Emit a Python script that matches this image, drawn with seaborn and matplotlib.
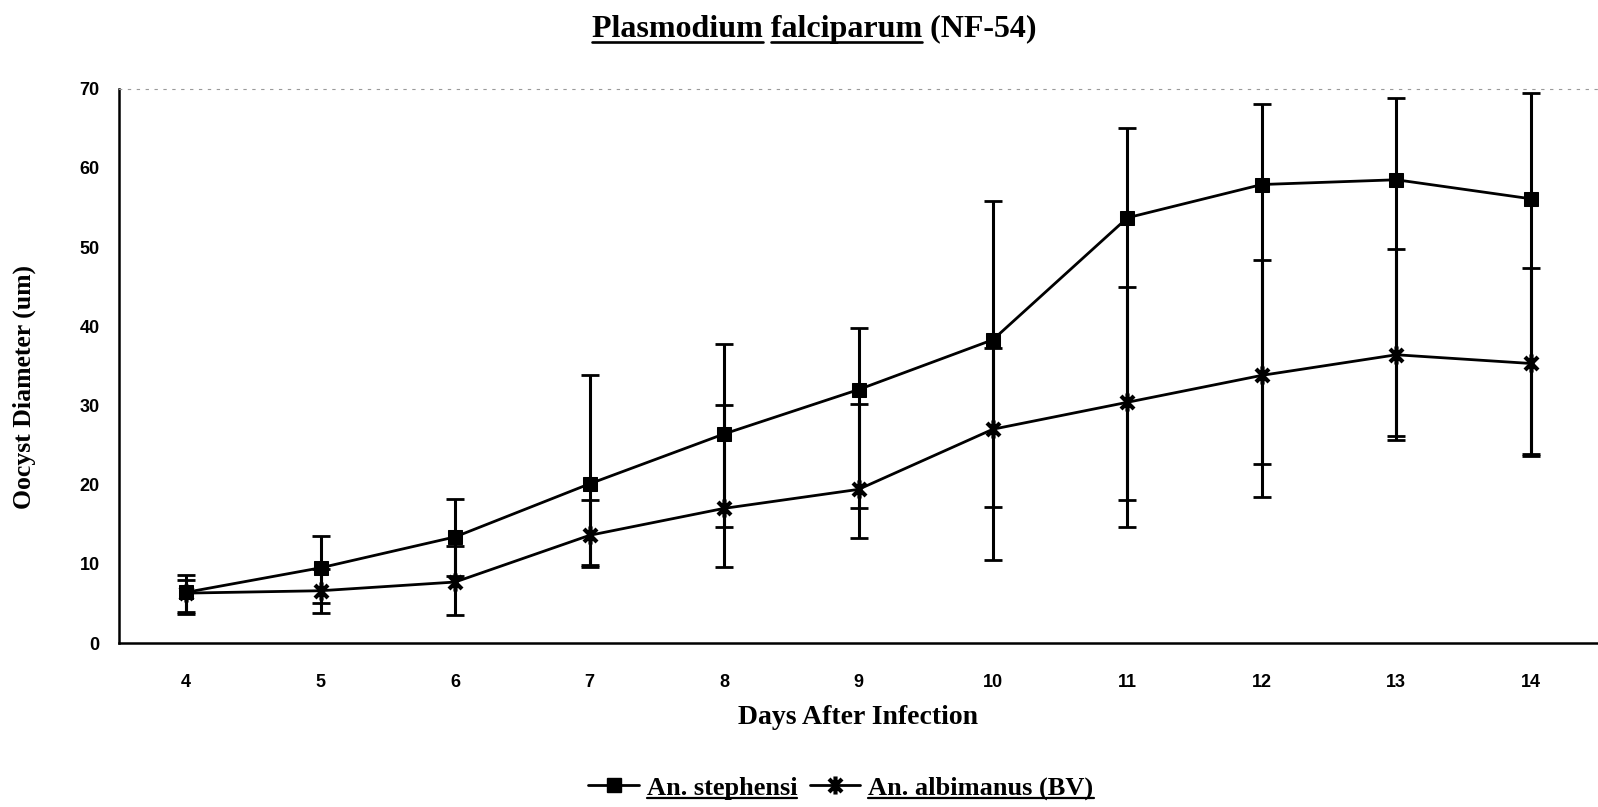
import numpy as np
import pandas as pd
import matplotlib
matplotlib.use("Agg")
import matplotlib.pyplot as plt
from matplotlib.path import Path
from matplotlib.lines import Line2D
import seaborn as sns

# Days after infection
days = [4, 5, 6, 7, 8, 9, 10, 11, 12, 13, 14]

# An. stephensi: mean oocyst diameter and error bar ends (um)
stephensi_mean = [6.4, 9.5, 13.4, 20.1, 26.4, 32.0, 38.3, 53.7, 57.9, 58.5, 56.1]
stephensi_high = [8.6, 13.5, 18.2, 33.9, 37.8, 39.8, 55.8, 65.1, 68.1, 68.8, 69.5]
stephensi_low = [3.9, 5.0, 8.4, 9.9, 14.7, 17.1, 17.2, 18.0, 22.6, 26.1, 23.9]

# An. albimanus (BV): mean oocyst diameter and error bar ends (um)
albimanus_mean = [6.3, 6.6, 7.7, 13.6, 17.0, 19.4, 27.0, 30.4, 33.8, 36.4, 35.3]
albimanus_high = [8.0, 9.4, 12.2, 18.0, 30.0, 30.2, 37.2, 45.0, 48.4, 49.8, 47.4]
albimanus_low = [3.7, 3.75, 3.5, 9.6, 9.6, 13.2, 10.5, 14.6, 18.5, 25.6, 23.6]

y_ticks = [0, 10, 20, 30, 40, 50, 60, 70]
series_labels = ["An. stephensi", "An. albimanus (BV)"]
title_words = ["Plasmodium", "falciparum", "(NF-54)"]

sns.set_theme(style="white")
plt.rcParams["font.family"] = ["Liberation Serif", "DejaVu Serif"]

W, H, DPI = 1598, 807, 100
fig = plt.figure(figsize=(W / DPI, H / DPI), dpi=DPI)
ax = fig.add_axes([119 / W, 1 - 643 / H, (W - 119) / W, (643 - 88.7) / H])

# Excel-style star marker: an "x" crossed by a vertical stroke
star = Path(
    [(0, -1), (0, 1), (-0.72, -0.72), (0.72, 0.72), (-0.72, 0.72), (0.72, -0.72)],
    [Path.MOVETO, Path.LINETO, Path.MOVETO, Path.LINETO, Path.MOVETO, Path.LINETO],
)

df_s = pd.DataFrame({"day": days, "mean": stephensi_mean})
df_a = pd.DataFrame({"day": days, "mean": albimanus_mean})

for mean, lo, hi in [
    (stephensi_mean, stephensi_low, stephensi_high),
    (albimanus_mean, albimanus_low, albimanus_high),
]:
    m = np.array(mean)
    ax.errorbar(
        days, m, yerr=[m - np.array(lo), np.array(hi) - m], fmt="none",
        ecolor="black", elinewidth=2.2, capsize=6.5, capthick=2.0, zorder=2,
    )

sns.lineplot(
    data=df_s, x="day", y="mean", ax=ax, color="black", linewidth=2.0,
    marker="s", markersize=10.5, markeredgecolor="black", markerfacecolor="black",
    zorder=3,
)
sns.lineplot(
    data=df_a, x="day", y="mean", ax=ax, color="black", linewidth=2.0,
    marker=star, markersize=13, markeredgewidth=3.0, markeredgecolor="black",
    zorder=3,
)

ax.set_xlim(3.5, 14.5)
ax.set_ylim(0, 70)
ax.set_xticks(days)
ax.set_xticklabels([str(d) for d in days])
ax.set_yticks(y_ticks)
ax.set_yticklabels([str(t) for t in y_ticks])
ax.set_xlabel("")
ax.set_ylabel("")
ax.tick_params(axis="both", length=0, labelsize=13)
ax.tick_params(axis="x", pad=22)
ax.tick_params(axis="y", pad=14)
for lab in ax.get_xticklabels() + ax.get_yticklabels():
    lab.set_fontfamily(["Liberation Sans", "DejaVu Sans"])
    lab.set_fontweight("bold")
    lab.set_color("black")

for side in ["left", "bottom"]:
    ax.spines[side].set_visible(True)
    ax.spines[side].set_color("black")
    ax.spines[side].set_linewidth(1.8)
ax.spines["right"].set_visible(False)
ax.spines["top"].set_visible(True)
ax.spines["top"].set_color("#9a9a9a")
ax.spines["top"].set_linewidth(0.8)
ax.spines["top"].set_linestyle((0, (2, 6)))
ax.grid(False)

# Axis titles
fig.text(858 / W, 1 - 717 / H, "Days After Infection", ha="center", va="center",
         fontsize=20, fontweight="bold", color="black")
fig.text(24.5 / W, 1 - 387 / H, "Oocyst Diameter (um)", ha="center", va="center",
         rotation=90, fontsize=18.5, fontweight="bold", color="black")

# Title with the species name underlined word by word
title_fs = 23
title = fig.text(814 / W, 1 - 29 / H, " ".join(title_words), ha="center",
                 va="center", fontsize=title_fs, fontweight="bold", color="black")

# Legend below the axes
handles = [
    Line2D([0], [0], color="black", lw=2.0, marker="s", markersize=10.5),
    Line2D([0], [0], color="black", lw=2.0, marker=star, markersize=13,
           markeredgewidth=3.0),
]
leg = fig.legend(
    handles, series_labels, loc="center", bbox_to_anchor=(841 / W, 1 - 788 / H),
    ncol=2, frameon=False, prop={"family": "Liberation Serif", "weight": "bold",
                                 "size": 19},
    handlelength=1.9, handletextpad=0.3, columnspacing=0.5,
)
for t in leg.get_texts():
    t.set_color("black")

fig.canvas.draw()
renderer = fig.canvas.get_renderer()


def underline(x0, x1, y, lw=1.6):
    fig.add_artist(Line2D([x0 / W, x1 / W], [y / H, y / H], color="black",
                          lw=lw, transform=fig.transFigure))


# underline the two words of the species name in the title
tb = title.get_window_extent(renderer)
prop = title.get_fontproperties()
w1 = renderer.get_text_width_height_descent(title_words[0], prop, ismath=False)[0]
w1s = renderer.get_text_width_height_descent(title_words[0] + " ", prop, ismath=False)[0]
w2 = renderer.get_text_width_height_descent(" ".join(title_words[:2]), prop, ismath=False)[0]
uy = tb.y0 + 2
underline(tb.x0, tb.x0 + w1, uy, lw=1.9)
underline(tb.x0 + w1s, tb.x0 + w2, uy, lw=1.9)

# underline legend entries
for t in leg.get_texts():
    bb = t.get_window_extent(renderer)
    underline(bb.x0, bb.x1, bb.y0 + 2, lw=1.6)

fig.savefig("out.png", dpi=DPI, facecolor="white")
